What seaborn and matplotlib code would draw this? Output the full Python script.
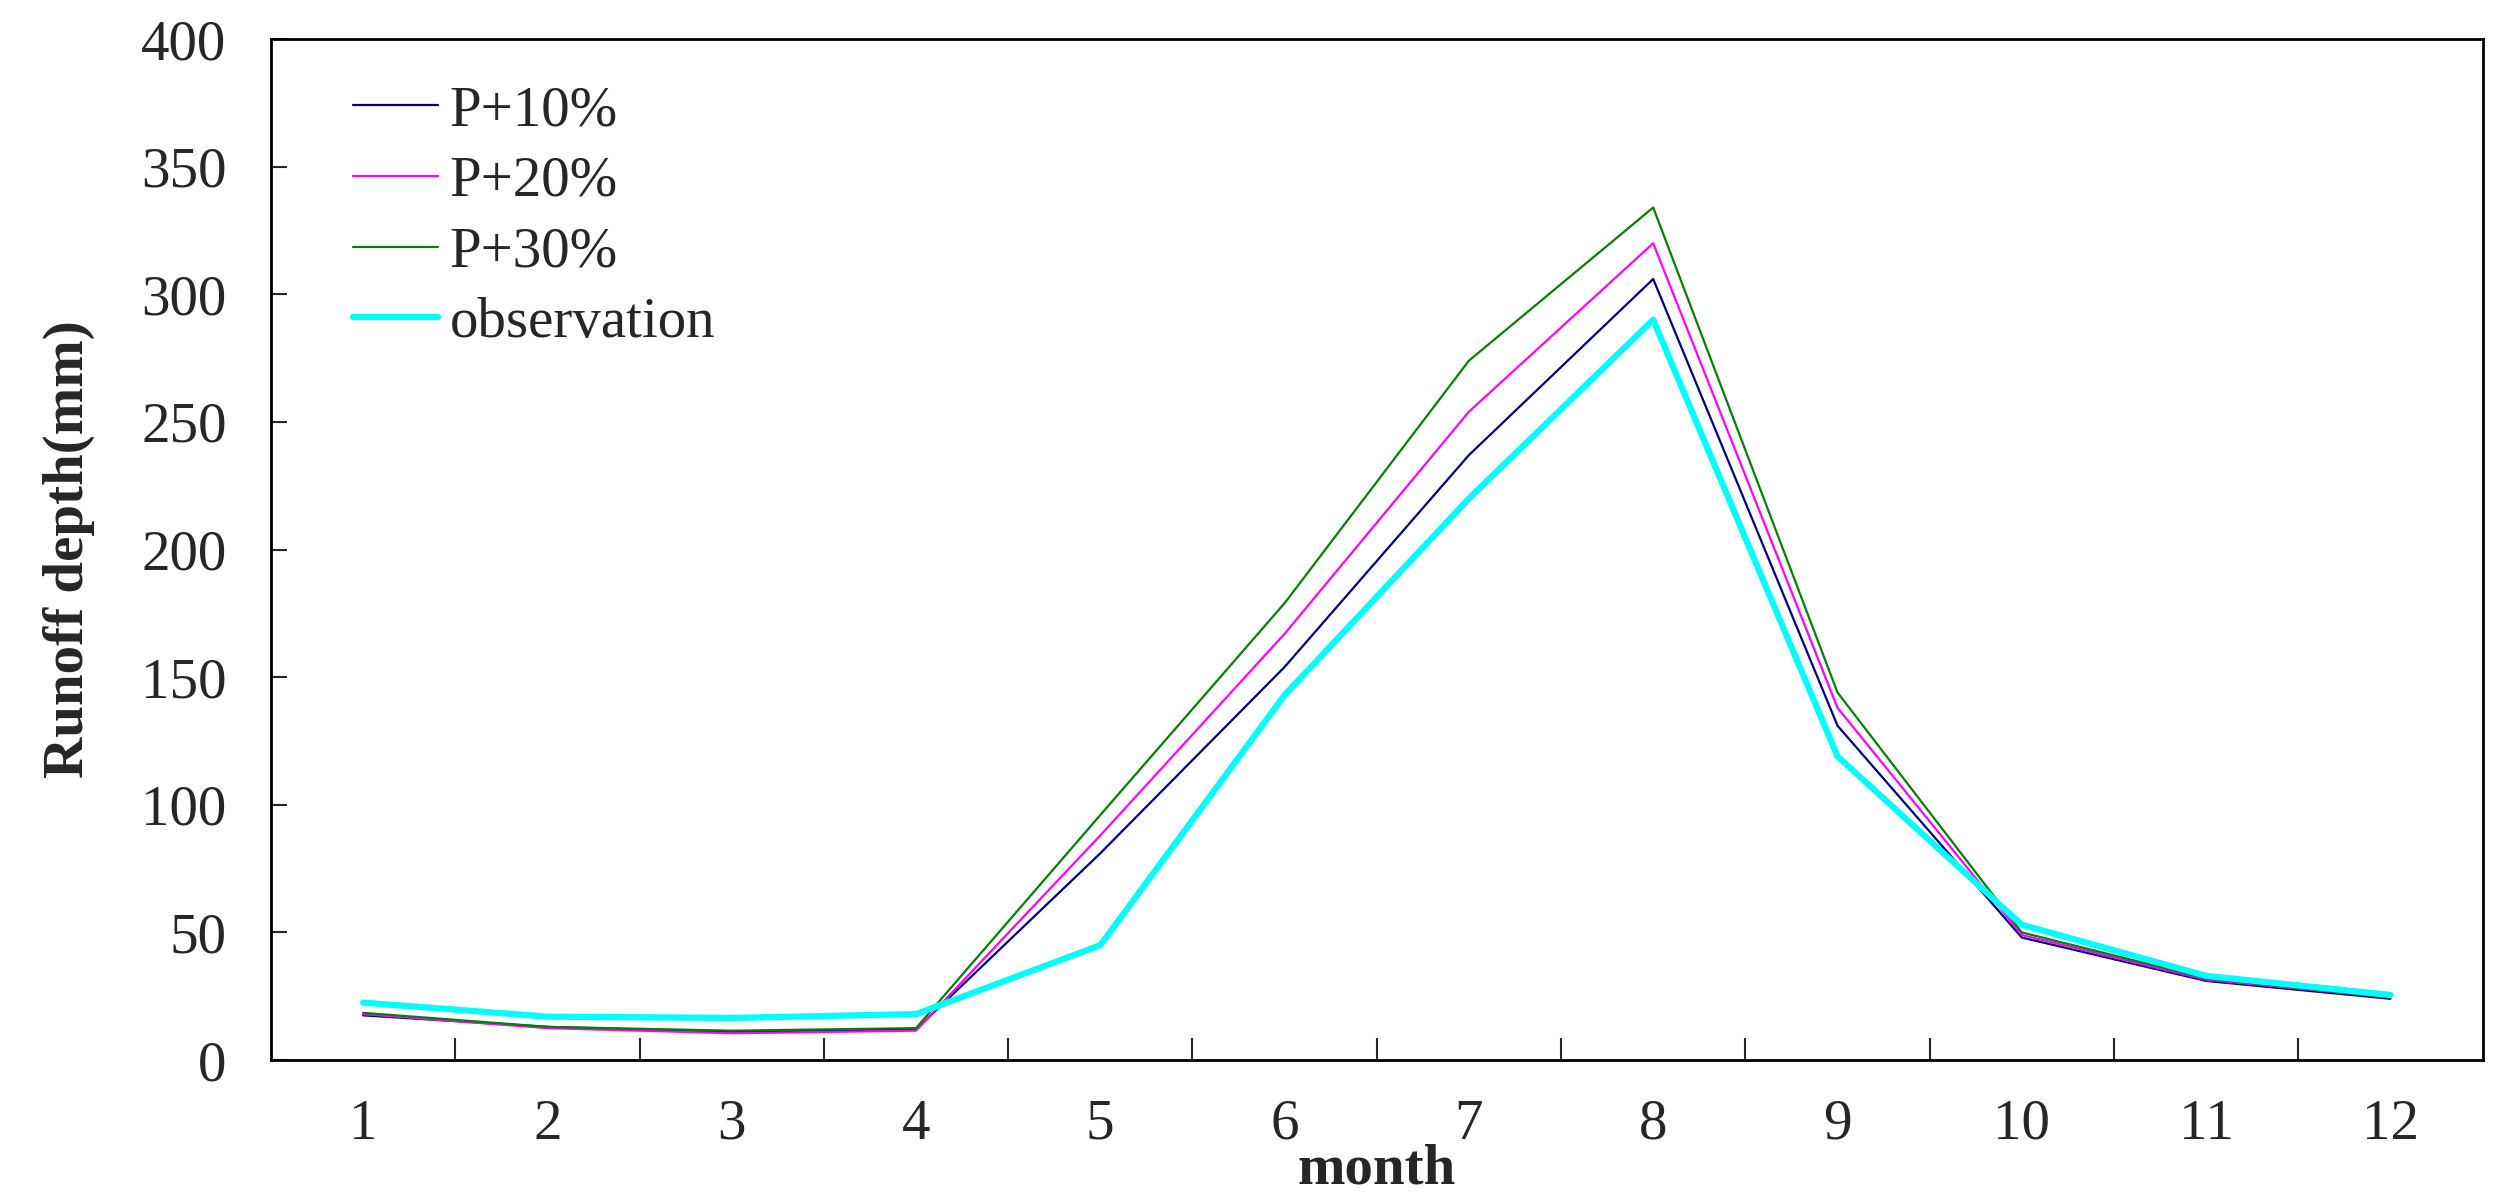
import numpy as np
import pandas as pd
import matplotlib
matplotlib.use("Agg")
import matplotlib.pyplot as plt
import seaborn as sns

# values (runoff depth, mm)
months = list(range(1, 13))
month_labels = [str(m) for m in months]
p10 = [17.5, 13, 11, 12, 81, 154, 237, 306, 131, 48, 31, 24]
p20 = [18, 12.5, 10.5, 11.5, 88, 167, 254, 320, 138, 49, 31.5, 24.5]
p30 = [18.5, 13, 11.5, 12.5, 96, 179, 274, 334, 144, 50, 32, 24.5]
obs = [22.5, 17, 16.5, 18, 45, 143, 220, 290, 119, 53, 33, 25.5]

series_names = ["P+10%", "P+20%", "P+30%", "observation"]
series_colors = ["#000080", "#FF00FF", "#008000", "#00FFFF"]
series_widths = [1.6, 1.6, 1.6, 4.5]

df = pd.DataFrame({
    "month": months * 4,
    "runoff": p10 + p20 + p30 + obs,
    "series": np.repeat(series_names, len(months)),
})

sns.set_style("white")
plt.rcParams["font.family"] = ["Liberation Serif", "DejaVu Serif"]

fig = plt.figure(figsize=(25.16, 12.02), dpi=100)
ax = fig.add_axes([0.1077, 0.1181, 0.879, 0.8494])

for name, color, lw in zip(series_names, series_colors, series_widths):
    sns.lineplot(data=df[df["series"] == name], x="month", y="runoff",
                 color=color, linewidth=lw, label=name, ax=ax)

ax.set_xlim(0.5, 12.5)
ax.set_ylim(0, 400)
ax.set_yticks(range(0, 401, 50))
ax.set_xticks(months)
ax.set_xticklabels(month_labels)
ax.set_xticks(np.arange(1.5, 12, 1), minor=True)

ax.tick_params(axis="x", which="major", length=0, pad=28, labelsize=41)
ax.tick_params(axis="x", which="minor", bottom=True, direction="in",
               length=15.5, width=1.5)
ax.tick_params(axis="y", which="major", left=True, direction="in",
               length=11.5, width=1.5, pad=32, labelsize=41)

for s in ax.spines.values():
    s.set_color("black")
    s.set_linewidth(2)

ax.set_xlabel("month", fontsize=41, fontweight="bold", labelpad=-5)
ax.set_ylabel("Runoff depth(mm)", fontsize=41, fontweight="bold", labelpad=33)

ax.legend(loc="upper left", bbox_to_anchor=(0.037, 0.955), frameon=False,
          fontsize=41, handlelength=1.5, handletextpad=0.2, labelspacing=0.33,
          borderaxespad=0, borderpad=0)

fig.savefig("out.png", dpi=100)
